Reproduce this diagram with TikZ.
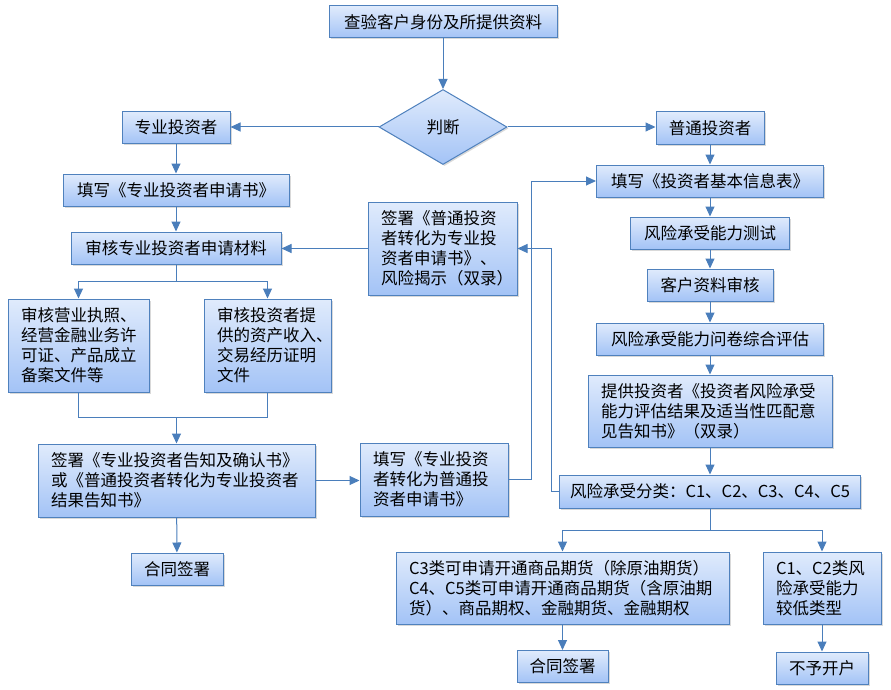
\documentclass[tikz,border=0pt]{standalone}
\usepackage{fontspec}
\setmainfont{Noto Sans CJK SC}
\usetikzlibrary{arrows.meta,shapes.geometric,shadows,calc}
\definecolor{boxline}{RGB}{79,129,189}
\definecolor{boxtop}{RGB}{224,235,252}
\definecolor{boxbot}{RGB}{163,195,246}
\definecolor{flowline}{RGB}{74,126,187}
\begin{document}
\begin{tikzpicture}
[x=1pt,y=-1pt,%
  every node/.style={font=\fontsize{16.5}{20}\selectfont},%
  box/.style={draw=boxline,line width=1pt,top color=boxtop,bottom color=boxbot,%
    drop shadow={shadow xshift=1.5pt,shadow yshift=-1.5pt,opacity=.3},%
    minimum height=32pt,inner sep=0pt,align=center},%
  para/.style={box,align=left,text width=#1,inner xsep=13pt},%
  decision/.style={box,diamond,minimum width=128pt,minimum height=75pt},%
  link/.style={draw=flowline,line width=1pt},%
  arr/.style={link,-{Triangle[length=10pt,width=9pt]}}]
\useasboundingbox (0,0) rectangle (891,690);
\node[box,minimum width=228pt] (check) at (443,22) {查验客户身份及所提供资料};
\node[decision] (judge) at (443,127) {判断};
\node[box,minimum width=108pt] (pro) at (176,127.5) {专业投资者};
\node[box,minimum width=108pt] (ord) at (710,128) {普通投资者};
\node[box,minimum width=226pt] (proform) at (176,190) {填写《专业投资者申请书》};
\node[box,minimum width=210pt] (proreview) at (176,248) {审核专业投资者申请材料};
\node[para=123pt,minimum height=93pt] (toprosign) at (442.5,248.5)
  {签署《普通投资\\者转化为专业投\\资者申请书》、\\风险揭示（双录）};
\node[para=115pt,minimum height=93pt] (licence) at (78.5,345.5)
  {审核营业执照、\\经营金融业务许\\可证、产品成立\\备案文件等};
\node[para=101pt,minimum height=93pt] (assets) at (267.5,345.5)
  {审核投资者提\\供的资产收入、\\交易经历证明\\文件};
\node[para=251pt,minimum height=73pt] (prosign) at (176.5,480.5)
  {签署《专业投资者告知及确认书》\\或《普通投资者转化为专业投资者\\结果告知书》};
\node[para=122pt,minimum height=73pt] (toordform) at (434,479.5)
  {填写《专业投资\\者转化为普通投\\资者申请书》};
\node[box,minimum width=92pt] (prodeal) at (177,569) {合同签署};
\node[box,minimum width=227pt] (ordform) at (710,181) {填写《投资者基本信息表》};
\node[box,minimum width=159pt] (risktest) at (710,233) {风险承受能力测试};
\node[box,minimum width=126pt] (ordreview) at (710,285) {客户资料审核};
\node[box,minimum width=227pt] (riskeval) at (710,339) {风险承受能力问卷综合评估};
\node[para=218pt,minimum height=72pt] (notice) at (710,411)
  {提供投资者《投资者风险承受\\能力评估结果及适当性匹配意\\见告知书》（双录）};
\node[box,minimum width=301pt,minimum height=33pt] (riskclass) at (710,491.5)
  {风险承受分类：C1、C2、C3、C4、C5};
\node[para=307pt,minimum height=72pt] (highrisk) at (562.5,588)
  {C3类可申请开通商品期货（除原油期货）\\C4、C5类可申请开通商品期货（含原油期\\货）、商品期权、金融期货、金融期权};
\node[para=92pt,minimum height=72pt] (lowrisk) at (822,588)
  {C1、C2类风\\险承受能力\\较低类型};
\node[box,minimum width=91pt] (orddeal) at (562.5,666.5) {合同签署};
\node[box,minimum width=92pt] (refuse) at (822,668) {不予开户};
\coordinate (fork) at ($(proreview.south)+(0,17)$);
\coordinate (merge) at ($(prosign.north)+(0,-26)$);
\coordinate (split) at ($(riskclass.south)+(0,22)$);
\draw[arr] (check) -- (judge);
\draw[arr] (judge.west) -- (judge.west -| pro.east);
\draw[arr] (judge.east) -- (judge.east -| ord.west);
\draw[arr] (pro) -- (proform);
\draw[arr] (proform) -- (proreview);
\draw[arr] (toprosign.west) -- (toprosign.west -| proreview.east);
\draw[link] (proreview.south) -- (fork);
\draw[arr] (fork) -| (licence.north);
\draw[arr] (fork) -| (assets.north);
\draw[link] (licence.south) |- (merge) -| (assets.south);
\draw[arr] (merge) -- (prosign.north);
\draw[arr] (prosign.east) -- (prosign.east -| toordform.west);
\draw[arr] (prosign) -- (prodeal);
\draw[arr] (toordform.east) -- ++(23,0) |- (ordform.west);
\draw[arr] (riskclass.west) -- ++(-8,0) |- (toprosign.east);
\draw[arr] (ord) -- (ordform);
\draw[arr] (ordform) -- (risktest);
\draw[arr] (risktest) -- (ordreview);
\draw[arr] (ordreview) -- (riskeval);
\draw[arr] (riskeval) -- (notice);
\draw[arr] (notice) -- (riskclass);
\draw[link] (riskclass.south) -- (split);
\draw[arr] (split) -| (highrisk.north);
\draw[arr] (split) -| (lowrisk.north);
\draw[arr] (highrisk) -- (orddeal);
\draw[arr] (lowrisk) -- (refuse);
\end{tikzpicture}
\end{document}
